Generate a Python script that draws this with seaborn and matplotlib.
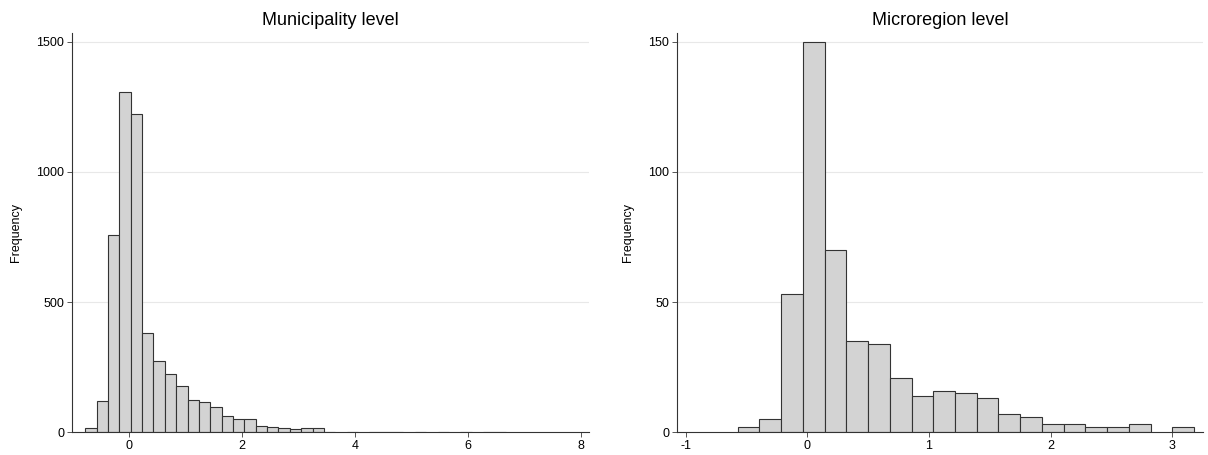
import numpy as np
import pandas as pd
import matplotlib
matplotlib.use("Agg")
import matplotlib.pyplot as plt
import seaborn as sns

# bin counts
muni_start = -0.768
muni_width = 0.2011
muni_counts = [17, 121, 758, 1307, 1222, 383, 274, 223, 178, 124, 115, 98, 64, 52, 51,
               26, 22, 17, 12, 18, 15, 3, 0, 2, 0, 1, 2, 1, 0, 1, 0, 1, 0, 1, 0, 1, 1]
muni_xticks = [0, 2, 4, 6, 8]
muni_yticks = [0, 500, 1000, 1500]

micro_start = -0.573
micro_width = 0.1786
micro_counts = [2, 5, 53, 150, 70, 35, 34, 21, 14, 16, 15, 13, 7, 6, 3, 3, 2, 2, 3, 0, 2]
micro_xticks = [-1, 0, 1, 2, 3]
micro_yticks = [0, 50, 100, 150]

titles = ["Municipality level", "Microregion level"]

sns.set_style("white")
plt.rcParams['font.family'] = ['Liberation Sans', 'DejaVu Sans']
plt.rcParams['axes.unicode_minus'] = False
plt.rcParams['text.color'] = 'black'
plt.rcParams['axes.labelcolor'] = 'black'
plt.rcParams['xtick.color'] = 'black'
plt.rcParams['ytick.color'] = 'black'

fig = plt.figure(figsize=(12.08, 4.55), dpi=100)
ax1 = fig.add_axes([0.0596, 0.0499, 0.4280, 0.8769])
ax2 = fig.add_axes([0.5602, 0.0499, 0.4357, 0.8769])

panels = [
    (ax1, muni_start, muni_width, muni_counts, muni_xticks, muni_yticks, (-1.004, 8.148), 1532),
    (ax2, micro_start, micro_width, micro_counts, micro_xticks, micro_yticks, (-1.074, 3.252), 153.2),
]

for i, (ax, start, width, counts, xt, yt, xlim, ytop) in enumerate(panels):
    edges = start + width * np.arange(len(counts) + 1)
    df = pd.DataFrame({'x': (edges[:-1] + edges[1:]) / 2, 'n': counts})
    sns.histplot(data=df, x='x', weights='n', bins=list(edges), ax=ax,
                 color='#d3d3d3', edgecolor='#333333', linewidth=0.8, alpha=1)
    # Stata draws nothing for empty bins
    for p in ax.patches:
        if p.get_height() == 0:
            p.set_visible(False)
    ax.set_xlim(*xlim)
    ax.set_ylim(0, ytop)
    ax.set_xticks(xt)
    ax.set_yticks(yt)
    ax.set_xlabel('')
    ax.set_ylabel('Frequency', fontsize=9, labelpad=10)
    ax.set_title(titles[i], fontsize=13, pad=6)
    for y in yt[1:]:
        ax.axhline(y, color='#e8e8e8', lw=0.8, zorder=0)
    for s in ['top', 'right']:
        ax.spines[s].set_visible(False)
    for s in ['left', 'bottom']:
        ax.spines[s].set_color('#333333')
        ax.spines[s].set_linewidth(0.8)
    ax.tick_params(axis='both', labelsize=9, length=3.5, width=0.7,
                   color='#555555', pad=2, direction='out')
    ax.tick_params(axis='x', bottom=True)
    ax.tick_params(axis='y', left=True)

fig.savefig('out.png', dpi=100)
